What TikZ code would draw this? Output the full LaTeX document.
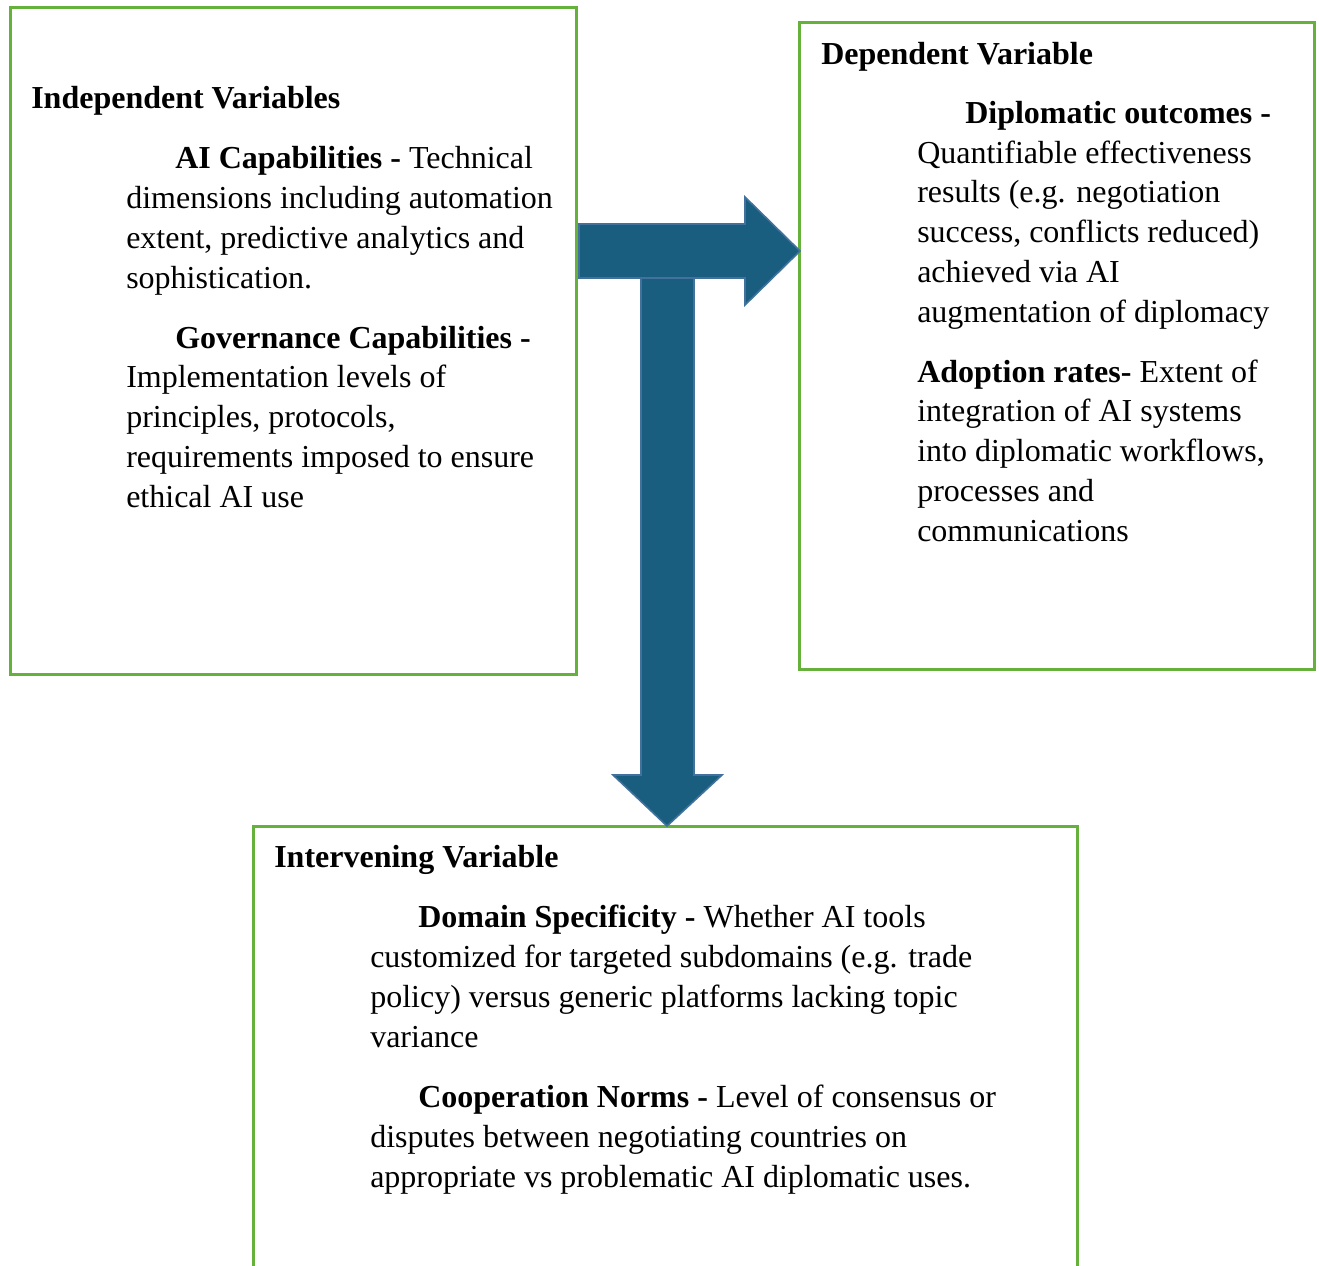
\documentclass[tikz,border=0pt]{standalone}
\usepackage{fontspec}
\setmainfont{Liberation Serif}
\usepackage{tikz}

\definecolor{boxgreen}{RGB}{102,177,60}
\definecolor{arrowfill}{RGB}{25,94,127}
\definecolor{arrowline}{RGB}{65,113,156}

\tikzset{
  varbox/.style={draw=boxgreen, line width=2.25pt},
  bigarrow/.style={draw=arrowline, line width=1.2pt, fill=arrowfill, line join=miter},
  vartext/.style={anchor=base west, inner sep=0pt, align=left, font=\fontsize{24}{29.8}\selectfont},
}

\begin{document}
\begin{tikzpicture}[x=0.75pt,y=0.75pt,yscale=-1,xscale=1]
\useasboundingbox (0,0) rectangle (1319,1265);

%Shape: Rectangle [id:indep]
\draw [varbox] (10,7) rectangle (576,674) ;
%Shape: Rectangle [id:dep]
\draw [varbox] (799,22) rectangle (1314,669) ;
%Shape: Rectangle [id:interv]
\draw [varbox] (253,826) rectangle (1077,1290) ;

%Shape: Right Arrow [id:arrowright]
\draw [bigarrow] (579,224) -- (745,224) -- (745,197) -- (800,251) -- (745,305) -- (745,278) -- (579,278) -- cycle ;
%Shape: Down Arrow [id:arrowdown]
\draw [bigarrow] (641,278) -- (694,278) -- (694,775) -- (722,775) -- (667,826) -- (613,775) -- (641,775) -- cycle ;

% Text Node (base = last line)
\node [vartext] (indephead) at (31,108) {\textbf{Independent Variables}};
% Text Node
\node [vartext] (aicap) at (126,288) {\hspace*{36.75pt}\textbf{AI Capabilities -} Technical\\dimensions including automation\\extent, predictive analytics and\\sophistication.};
% Text Node
\node [vartext] (govcap) at (126,507) {\hspace*{36.75pt}\textbf{Governance Capabilities -}\\Implementation levels of\\principles, protocols,\\requirements imposed to ensure\\ethical AI use};

% Text Node
\node [vartext] (dephead) at (821,64) {\textbf{Dependent Variable}};
% Text Node
\node [vartext] (diplout) at (917,322) {\hspace*{36pt}\textbf{Diplomatic outcomes -}\\Quantifiable effectiveness\\results (e.g. negotiation\\success, conflicts reduced)\\achieved via AI\\augmentation of diplomacy};
% Text Node
\node [vartext] (adoption) at (917,541) {\textbf{Adoption rates-} Extent of\\integration of AI systems\\into diplomatic workflows,\\processes and\\communications};

% Text Node
\node [vartext] (intervhead) at (274,867) {\textbf{Intervening Variable}};
% Text Node
\node [vartext] (domain) at (370,1047) {\hspace*{36pt}\textbf{Domain Specificity -} Whether AI tools\\customized for targeted subdomains (e.g. trade\\policy) versus generic platforms lacking topic\\variance};
% Text Node
\node [vartext] (coop) at (370,1187) {\hspace*{36pt}\textbf{Cooperation Norms -} Level of consensus or\\disputes between negotiating countries on\\appropriate vs problematic AI diplomatic uses.};

\end{tikzpicture}
\end{document}
